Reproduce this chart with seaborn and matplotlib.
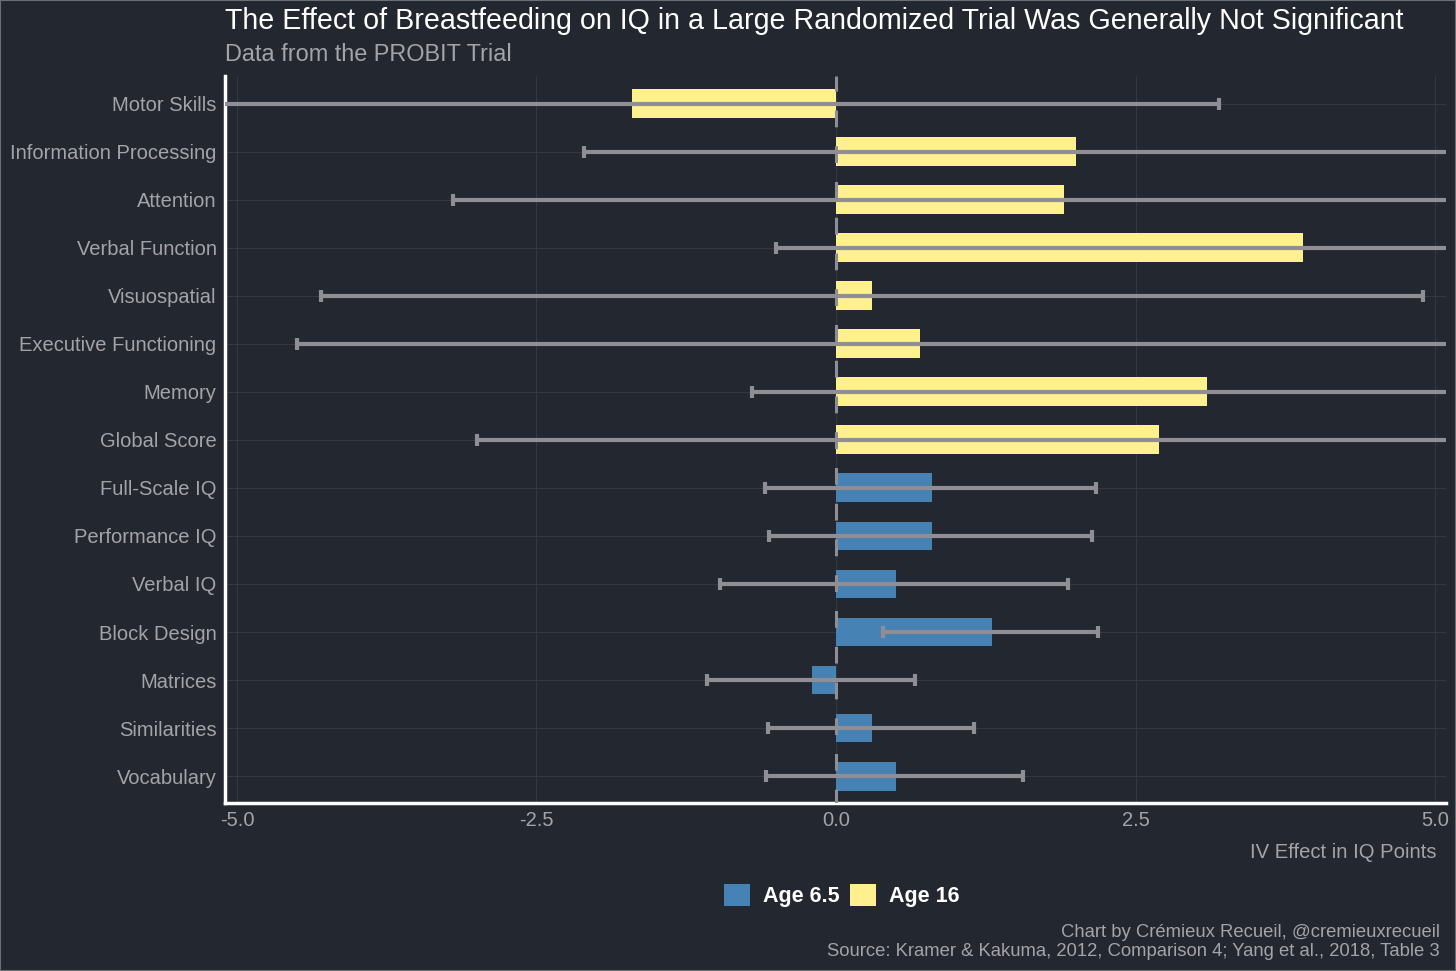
import pandas as pd
import matplotlib.pyplot as plt
import seaborn as sns
from matplotlib.patches import Patch

# values
categories = ["Motor Skills", "Information Processing", "Attention", "Verbal Function",
              "Visuospatial", "Executive Functioning", "Memory", "Global Score",
              "Full-Scale IQ", "Performance IQ", "Verbal IQ", "Block Design",
              "Matrices", "Similarities", "Vocabulary"]
groups = ["Age 16"] * 8 + ["Age 6.5"] * 7
effects = [-1.7, 2.0, 1.9, 3.9, 0.3, 0.7, 3.1, 2.7,
           0.8, 0.8, 0.5, 1.3, -0.2, 0.3, 0.5]
ci_low = [-6.6, -2.1, -3.2, -0.5, -4.3, -4.5, -0.7, -3.0,
          -0.59, -0.56, -0.97, 0.39, -1.08, -0.57, -0.58]
ci_high = [3.2, 6.1, 7.0, 8.3, 4.9, 5.9, 6.9, 8.4,
           2.17, 2.14, 1.94, 2.19, 0.66, 1.15, 1.56]

df = pd.DataFrame({"category": categories, "group": groups, "effect": effects,
                   "low": ci_low, "high": ci_high})

bg = "#232830"
blue = "#4682b4"
yellow = "#fff08f"
grey_txt = "#a3a3a8"
err_col = "#8e8e94"

sns.set_style("dark")
plt.rcParams["font.family"] = ["Liberation Sans", "DejaVu Sans"]

fig = plt.figure(figsize=(14.56, 9.71), dpi=100, facecolor=bg)
ax = fig.add_axes([0.1545, 0.173, 0.8385, 0.749])
ax.set_facecolor(bg)

sns.barplot(data=df, x="effect", y="category", hue="group", dodge=False,
            palette={"Age 6.5": blue, "Age 16": yellow}, width=0.6, saturation=1,
            order=categories, hue_order=["Age 6.5", "Age 16"], linewidth=0,
            legend=False, ax=ax, zorder=2)

ypos = list(range(len(categories)))
ax.errorbar(df["effect"], ypos,
            xerr=[df["effect"] - df["low"], df["high"] - df["effect"]],
            fmt="none", ecolor=err_col, elinewidth=3, capsize=4, capthick=3, zorder=3)

ax.axvline(0, color=err_col, lw=2.2, ls=(1, (5.5, 6.2)), zorder=4)

ax.set_xlim(-5.1, 5.09)
ax.set_ylim(len(categories) - 0.44, -0.58)
ax.set_xticks([-5, -2.5, 0, 2.5, 5])
ax.set_xticklabels(["-5.0", "-2.5", "0.0", "2.5", "5.0"])
ax.grid(True, color="#343941", lw=0.8, zorder=0)
ax.set_axisbelow(True)

for s in ["top", "right"]:
    ax.spines[s].set_visible(False)
for s in ["left", "bottom"]:
    ax.spines[s].set_visible(True)
    ax.spines[s].set_color("white")
    ax.spines[s].set_linewidth(2.5)

ax.tick_params(axis="both", colors=grey_txt, labelsize=14.5, length=0, pad=6)
ax.set_ylabel("")
ax.set_xlabel("IV Effect in IQ Points", color=grey_txt, fontsize=14.6, loc="right", labelpad=9)
ax.xaxis.label.set_x(0.992)

fig.text(0.1545, 0.978, "The Effect of Breastfeeding on IQ in a Large Randomized Trial Was Generally Not Significant",
         color="white", fontsize=20.6, va="center", ha="left")
fig.text(0.1545, 0.944, "Data from the PROBIT Trial", color=grey_txt, fontsize=16.9, va="center", ha="left")

handles = [Patch(facecolor=blue, edgecolor="none"), Patch(facecolor=yellow, edgecolor="none")]
leg = fig.legend(handles, ["Age 6.5", "Age 16"], loc="center", bbox_to_anchor=(0.578, 0.078),
                 ncol=2, frameon=False, handlelength=1.2, handleheight=1.2, columnspacing=0.5,
                 handletextpad=0.6, prop={"weight": "bold", "size": 15.5})
for t in leg.get_texts():
    t.set_color("white")

fig.text(0.989, 0.040, "Chart by Crémieux Recueil, @cremieuxrecueil", color=grey_txt,
         fontsize=13.3, ha="right", va="center")
fig.text(0.989, 0.020, "Source: Kramer & Kakuma, 2012, Comparison 4; Yang et al., 2018, Table 3",
         color=grey_txt, fontsize=13.3, ha="right", va="center")

fig.patches.append(plt.Rectangle((0, 0), 1, 1, transform=fig.transFigure, fill=False,
                                 edgecolor="#6a6e75", lw=1.5))

fig.savefig("out.png", dpi=100, facecolor=bg)
